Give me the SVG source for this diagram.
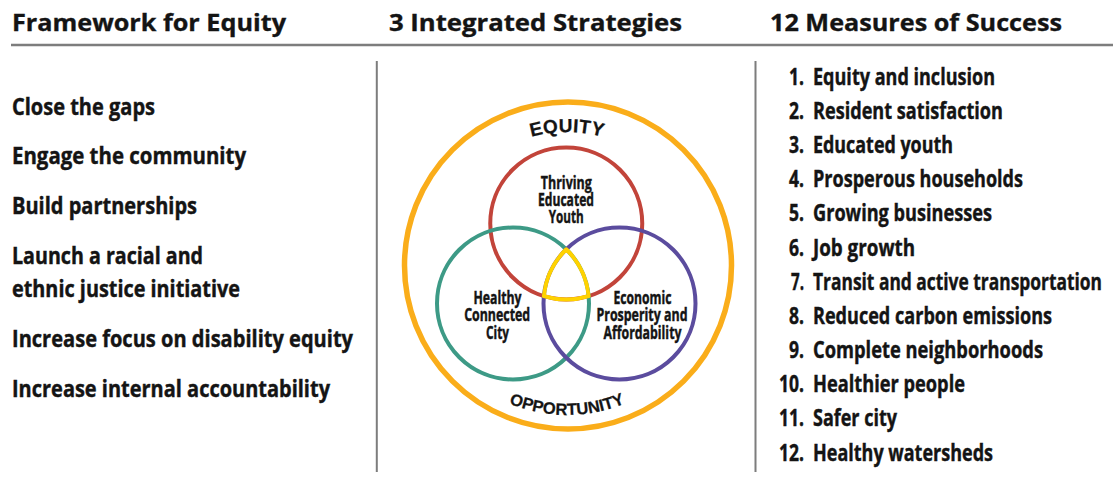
<svg xmlns="http://www.w3.org/2000/svg" width="1113" height="480" viewBox="0 0 1113 480">
  <style>
    text { font-family: "Open Sans", "Liberation Sans", sans-serif; font-weight: 700; fill: #141414; stroke: #141414; stroke-width: 0.45; }
    .hd { font-size: 24px; stroke-width: 0.35; }
    .li { font-size: 24px; }
    .ms { font-size: 23.5px; }
    .vn { font-size: 17px; text-anchor: middle; stroke-width: 0.45; }
    .arc { font-family: "Liberation Sans", "Open Sans", sans-serif; font-size: 19px; stroke-width: 0.25; }
    .arc.low { font-size: 16.5px; }
    .rule { stroke: #7d7d7d; fill: none; }
    .ring { fill: none; }
  </style>
  <defs>
    <path id="arcTop" d="M434,265 A133,133 0 0 1 700,265"/>
    <path id="arcBottom" d="M417,265 A150,150 0 0 0 717,265"/>
  </defs>

  <rect width="1113" height="480" fill="#ffffff"/>

  <!-- column headings -->
  <g id="headings">
    <text class="hd" x="12" y="31" textLength="274" lengthAdjust="spacingAndGlyphs">Framework for Equity</text>
    <text class="hd" x="389" y="31" textLength="293" lengthAdjust="spacingAndGlyphs">3 Integrated Strategies</text>
    <text class="hd" x="770" y="31" textLength="292" lengthAdjust="spacingAndGlyphs">12 Measures of Success</text>
  </g>

  <!-- rules between the columns -->
  <g id="rules">
    <line class="rule" x1="11" y1="45" x2="1113" y2="45" stroke-width="2.5"/>
    <line class="rule" x1="376.8" y1="61" x2="376.8" y2="472" stroke-width="2"/>
    <line class="rule" x1="755.5" y1="61" x2="755.5" y2="472" stroke-width="2"/>
  </g>

  <!-- framework items -->
  <g id="framework">
    <g id="fw-gaps"><text class="li" x="12" y="115" textLength="143" lengthAdjust="spacingAndGlyphs">Close the gaps</text></g>
    <g id="fw-community"><text class="li" x="12" y="164" textLength="234" lengthAdjust="spacingAndGlyphs">Engage the community</text></g>
    <g id="fw-partnerships"><text class="li" x="12" y="214" textLength="185" lengthAdjust="spacingAndGlyphs">Build partnerships</text></g>
    <g id="fw-justice">
      <text class="li" x="12" y="264" textLength="191" lengthAdjust="spacingAndGlyphs">Launch a racial and</text>
      <text class="li" x="12" y="297" textLength="228" lengthAdjust="spacingAndGlyphs">ethnic justice initiative</text>
    </g>
    <g id="fw-disability"><text class="li" x="12" y="347" textLength="341" lengthAdjust="spacingAndGlyphs">Increase focus on disability equity</text></g>
    <g id="fw-accountability"><text class="li" x="12" y="397" textLength="318" lengthAdjust="spacingAndGlyphs">Increase internal accountability</text></g>
  </g>

  <!-- strategies diagram -->
  <g id="equity-ring">
    <circle class="ring" cx="568" cy="265.5" r="163.5" stroke="#FAAD1A" stroke-width="5.5"/>
    <text class="arc" letter-spacing="0.3"><textPath href="#arcTop" startOffset="50%" text-anchor="middle">EQUITY</textPath></text>
    <text class="arc low" letter-spacing="0"><textPath href="#arcBottom" startOffset="50%" text-anchor="middle">OPPORTUNITY</textPath></text>
  </g>

  <g id="youth">
    <circle class="ring" cx="566.25" cy="223.5" r="76" stroke="#C2443A" stroke-width="4"/>
    <text class="vn" x="566.3" y="188.5" textLength="51" lengthAdjust="spacingAndGlyphs">Thriving</text>
    <text class="vn" x="566" y="205.5" textLength="56" lengthAdjust="spacingAndGlyphs">Educated</text>
    <text class="vn" x="566.3" y="222.5" textLength="35" lengthAdjust="spacingAndGlyphs">Youth</text>
  </g>

  <g id="city">
    <circle class="ring" cx="513" cy="303.5" r="76" stroke="#3D9A86" stroke-width="4"/>
    <text class="vn" x="497.5" y="303.5" textLength="48" lengthAdjust="spacingAndGlyphs">Healthy</text>
    <text class="vn" x="497.2" y="321" textLength="66" lengthAdjust="spacingAndGlyphs">Connected</text>
    <text class="vn" x="497.5" y="338.5" textLength="23" lengthAdjust="spacingAndGlyphs">City</text>
  </g>

  <g id="prosperity">
    <circle class="ring" cx="619.5" cy="303.5" r="76" stroke="#5B4C9E" stroke-width="4"/>
    <text class="vn" x="642.5" y="303.5" textLength="58" lengthAdjust="spacingAndGlyphs">Economic</text>
    <text class="vn" x="642" y="321" textLength="91" lengthAdjust="spacingAndGlyphs">Prosperity and</text>
    <text class="vn" x="642.5" y="338.5" textLength="78" lengthAdjust="spacingAndGlyphs">Affordability</text>
  </g>

  <!-- shared centre where all three strategies overlap -->
  <g id="overlap">
    <path class="ring" d="M566.25,249.27 A76,76 0 0 0 543.85,296.12 A76,76 0 0 0 588.65,296.12 A76,76 0 0 0 566.25,249.27 Z" stroke="#FFD200" stroke-width="4" stroke-linejoin="round"/>
  </g>

  <!-- measures of success -->
  <g id="measures">
    <g id="m1"><text class="ms" x="804" y="84.8" text-anchor="end" textLength="15" lengthAdjust="spacingAndGlyphs">1.</text><text class="ms" x="813" y="84.8" textLength="182" lengthAdjust="spacingAndGlyphs">Equity and inclusion</text></g>
    <g id="m2"><text class="ms" x="804" y="119" text-anchor="end" textLength="15" lengthAdjust="spacingAndGlyphs">2.</text><text class="ms" x="813" y="119" textLength="190" lengthAdjust="spacingAndGlyphs">Resident satisfaction</text></g>
    <g id="m3"><text class="ms" x="804" y="153.1" text-anchor="end" textLength="15" lengthAdjust="spacingAndGlyphs">3.</text><text class="ms" x="813" y="153.1" textLength="140" lengthAdjust="spacingAndGlyphs">Educated youth</text></g>
    <g id="m4"><text class="ms" x="804" y="187.3" text-anchor="end" textLength="15" lengthAdjust="spacingAndGlyphs">4.</text><text class="ms" x="813" y="187.3" textLength="210" lengthAdjust="spacingAndGlyphs">Prosperous households</text></g>
    <g id="m5"><text class="ms" x="804" y="221.4" text-anchor="end" textLength="15" lengthAdjust="spacingAndGlyphs">5.</text><text class="ms" x="813" y="221.4" textLength="179" lengthAdjust="spacingAndGlyphs">Growing businesses</text></g>
    <g id="m6"><text class="ms" x="804" y="255.6" text-anchor="end" textLength="15" lengthAdjust="spacingAndGlyphs">6.</text><text class="ms" x="813" y="255.6" textLength="102" lengthAdjust="spacingAndGlyphs">Job growth</text></g>
    <g id="m7"><text class="ms" x="804" y="289.7" text-anchor="end" textLength="13" lengthAdjust="spacingAndGlyphs">7.</text><text class="ms" x="813" y="289.7" textLength="289" lengthAdjust="spacingAndGlyphs">Transit and active transportation</text></g>
    <g id="m8"><text class="ms" x="804" y="323.9" text-anchor="end" textLength="15" lengthAdjust="spacingAndGlyphs">8.</text><text class="ms" x="813" y="323.9" textLength="239" lengthAdjust="spacingAndGlyphs">Reduced carbon emissions</text></g>
    <g id="m9"><text class="ms" x="804" y="358" text-anchor="end" textLength="15" lengthAdjust="spacingAndGlyphs">9.</text><text class="ms" x="813" y="358" textLength="230" lengthAdjust="spacingAndGlyphs">Complete neighborhoods</text></g>
    <g id="m10"><text class="ms" x="804" y="392.2" text-anchor="end" textLength="25" lengthAdjust="spacingAndGlyphs">10.</text><text class="ms" x="813" y="392.2" textLength="152" lengthAdjust="spacingAndGlyphs">Healthier people</text></g>
    <g id="m11"><text class="ms" x="804" y="426.3" text-anchor="end" textLength="25" lengthAdjust="spacingAndGlyphs">11.</text><text class="ms" x="813" y="426.3" textLength="84" lengthAdjust="spacingAndGlyphs">Safer city</text></g>
    <g id="m12"><text class="ms" x="804" y="460.5" text-anchor="end" textLength="25" lengthAdjust="spacingAndGlyphs">12.</text><text class="ms" x="813" y="460.5" textLength="180" lengthAdjust="spacingAndGlyphs">Healthy watersheds</text></g>
  </g>
</svg>
